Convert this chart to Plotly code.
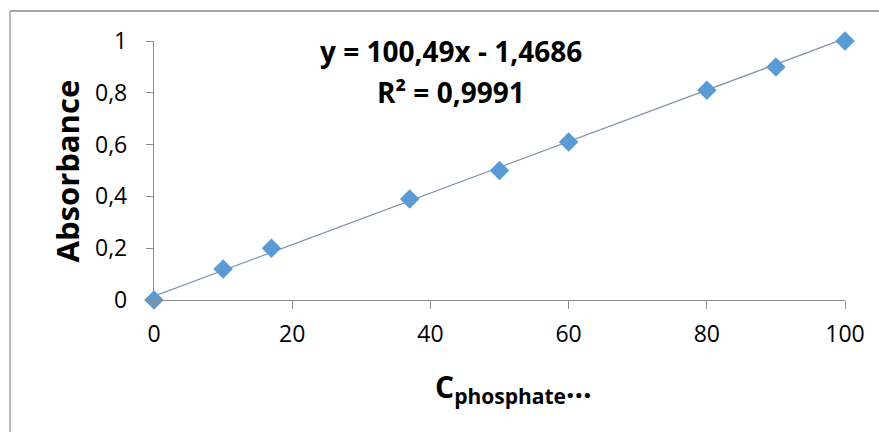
import plotly.graph_objects as go

# Calibration data: phosphate concentration vs absorbance
concentration = [0, 10, 17, 37, 50, 60, 80, 90, 100]
absorbance = [0.0, 0.12, 0.20, 0.39, 0.50, 0.61, 0.81, 0.90, 1.00]

# Linear trendline coefficients (as printed on the chart: C = a*A + b)
slope = 100.49
intercept = -1.4686
r_squared = 0.9991

x_ticks = [0, 20, 40, 60, 80, 100]
y_ticks = [0, 0.2, 0.4, 0.6, 0.8, 1.0]

FONT = "Open Sans"
AXIS_GREY = "#8c8c8c"

# Trendline across the data span, absorbance = (C - b) / a
x_fit = [min(concentration), max(concentration)]
y_fit = [(x - intercept) / slope for x in x_fit]

fig = go.Figure()
fig.add_trace(go.Scatter(
    x=x_fit, y=y_fit, mode="lines",
    line=dict(color="#8193ad", width=1.3),
    hoverinfo="skip", showlegend=False, cliponaxis=False,
))
fig.add_trace(go.Scatter(
    x=concentration, y=absorbance, mode="markers",
    marker=dict(symbol="diamond", size=15, color="#5b9bd5", line=dict(width=0)),
    showlegend=False, cliponaxis=False,
))

fig.update_layout(
    width=879, height=432,
    margin=dict(l=154, r=34, t=41, b=132),
    paper_bgcolor="white", plot_bgcolor="white",
    separators=", ",
    font=dict(family=FONT, size=23, color="black"),
    xaxis=dict(
        range=[0, 100], tickvals=x_ticks, showgrid=False, zeroline=False,
        showline=True, linecolor=AXIS_GREY, linewidth=1.3,
        ticks="outside", ticklen=8, tickcolor=AXIS_GREY, tickwidth=1.3,
        tickfont=dict(family=FONT, size=23, color="black"),
        ticklabelstandoff=5,
    ),
    yaxis=dict(
        range=[0, 1], tickvals=y_ticks, showgrid=False, zeroline=False,
        showline=True, linecolor=AXIS_GREY, linewidth=1.3,
        ticks="outside", ticklen=7, tickcolor=AXIS_GREY, tickwidth=1.3,
        tickfont=dict(family=FONT, size=23, color="black"),
        ticklabelstandoff=14,
    ),
    shapes=[
        # chart-area frame (left and top edges visible)
        dict(type="line", xref="paper", yref="paper",
             x0=-0.2084, x1=-0.2084, y0=-0.6, y1=1.1158,
             line=dict(color="#a6a6a6", width=1.5)),
        dict(type="line", xref="paper", yref="paper",
             x0=-0.2084, x1=1.1, y0=1.1158, y1=1.1158,
             line=dict(color="#8c8c8c", width=1.5)),
    ],
    annotations=[
        dict(text=f"<b>y = {slope:.2f}x - {abs(intercept):.4f}</b>".replace(".", ","),
             xref="paper", yref="paper", x=0.43, y=0.96,
             xanchor="center", yanchor="middle", showarrow=False,
             font=dict(family=FONT, size=28, color="black")),
        dict(text=f"<b>R² = {r_squared:.4f}</b>".replace(".", ","),
             xref="paper", yref="paper", x=0.43, y=0.805,
             xanchor="center", yanchor="middle", showarrow=False,
             font=dict(family=FONT, size=28, color="black")),
        dict(text="<b>Absorbance</b>", textangle=-90,
             xref="paper", yref="paper", x=-0.126, y=0.5,
             xanchor="center", yanchor="middle", showarrow=False,
             font=dict(family=FONT, size=31, color="black")),
        dict(text="<b>C<sub>phosphate</sub>…</b>",
             xref="paper", yref="paper", x=0.52, y=-0.34,
             xanchor="center", yanchor="middle", showarrow=False,
             font=dict(family=FONT, size=30, color="black")),
    ],
)

fig.write_html("out.html")
